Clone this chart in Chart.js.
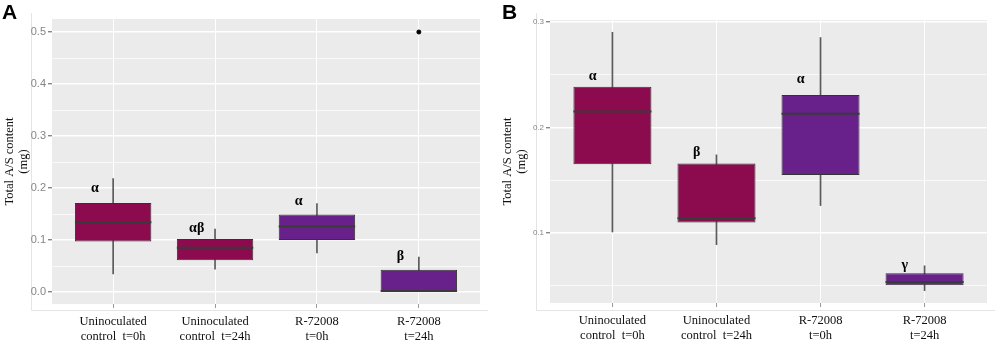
<!DOCTYPE html>
<html>
<head>
<meta charset="utf-8">
<script src="https://cdn.jsdelivr.net/npm/chart.js@4"></script>
<style>
  html, body { margin: 0; padding: 0; background: #fff; }
  #wrap { position: relative; width: 996px; height: 343px; overflow: hidden; }
  .panel { position: absolute; top: 0; width: 498px; height: 343px; }
  .tag { position: absolute; top: 0; font: bold 21px "Liberation Sans", Arial, sans-serif; color: #000; }
</style>
</head>
<body>
<div id="wrap">
  <div class="panel" style="left:0"><canvas id="chartA" width="498" height="343"></canvas></div>
  <div class="panel" style="left:498px"><canvas id="chartB" width="498" height="343"></canvas></div>
  <div class="tag" style="left:2px">A</div>
  <div class="tag" style="left:502px">B</div>
</div>
<script>
const categories = [
  ['Uninoculated', 'control  t=0h'],
  ['Uninoculated', 'control  t=24h'],
  ['R-72008', 't=0h'],
  ['R-72008', 't=24h']
];
const boxColors = ['#8c0b4f', '#8c0b4f', '#68218b', '#68218b'];

// panel A
const lowA = [0.035, 0.044, 0.075, 0.0];
const q1A = [0.097, 0.061, 0.100, 0.0];
const medA = [0.134, 0.085, 0.126, 0.002];
const q3A = [0.171, 0.102, 0.149, 0.043];
const highA = [0.218, 0.121, 0.170, 0.067];
const outliersA = [{ x: 4, y: 0.5 }];
const lettersA = ['α', 'αβ', 'α', 'β'];
const letterYA = [0.199, 0.122, 0.174, 0.068];
const majorTicksA = [0, 0.1, 0.2, 0.3, 0.4, 0.5];
const minorTicksA = [0.05, 0.15, 0.25, 0.35, 0.45];

// panel B
const lowB = [0.101, 0.089, 0.126, 0.0455];
const q1B = [0.165, 0.110, 0.155, 0.0506];
const medB = [0.215, 0.114, 0.213, 0.0537];
const q3B = [0.2385, 0.1657, 0.2306, 0.0619];
const highB = [0.290, 0.174, 0.285, 0.069];
const outliersB = [];
const lettersB = ['α', 'β', 'α', 'γ'];
const letterYB = [0.248, 0.176, 0.245, 0.069];
const majorTicksB = [0.1, 0.2, 0.3];
const minorTicksB = [0.05, 0.15, 0.25];

const serif = '"Liberation Serif", "Times New Roman", serif';
const sans = '"Liberation Sans", Arial, sans-serif';

function makeBoxChart(id, d) {
  const xs = categories.map((c, i) => i + 1);
  const allTicks = [...d.major, ...d.minor].sort((a, b) => a - b);

  // grey panel, faint frame, medians and letters
  const boxExtras = {
    id: 'boxExtras',
    beforeDraw(chart) {
      const { ctx, chartArea: a } = chart;
      ctx.save();
      ctx.fillStyle = '#ebebeb';
      ctx.fillRect(a.left, a.top, a.right - a.left, a.bottom - a.top);
      ctx.strokeStyle = '#e4e4e4';
      ctx.lineWidth = 1;
      ctx.beginPath();
      ctx.moveTo(d.frameX, 13);
      ctx.lineTo(d.frameX, 310.5);
      ctx.lineTo(a.right + 8, 310.5);
      ctx.stroke();
      ctx.restore();
    },
    afterDatasetsDraw(chart) {
      const { ctx, scales: { x, y } } = chart;
      const meta = chart.getDatasetMeta(0);
      ctx.save();
      ctx.strokeStyle = '#3a3a3a';
      ctx.lineWidth = 2;
      meta.data.forEach((el, i) => {
        const py = y.getPixelForValue(d.med[i]);
        ctx.beginPath();
        ctx.moveTo(el.x - el.width / 2, py);
        ctx.lineTo(el.x + el.width / 2, py);
        ctx.stroke();
      });
      ctx.fillStyle = '#000';
      ctx.font = 'bold 14px ' + serif;
      ctx.textAlign = 'center';
      ctx.textBaseline = 'middle';
      d.letters.forEach((t, i) => {
        ctx.fillText(t, x.getPixelForValue(xs[i] - d.letterDx), y.getPixelForValue(d.letterY[i]));
      });
      ctx.restore();
    }
  };

  return new Chart(document.getElementById(id), {
    type: 'bar',
    data: {
      datasets: [
        {
          label: 'box',
          data: xs.map((x, i) => ({ x, y: [d.q1[i], d.q3[i]] })),
          backgroundColor: boxColors,
          borderColor: '#333',
          borderWidth: 1,
          borderSkipped: false,
          grouped: false,
          categoryPercentage: 1,
          barPercentage: 0.75,
          order: 1
        },
        {
          label: 'whisker',
          data: xs.map((x, i) => ({ x, y: [d.low[i], d.high[i]] })),
          backgroundColor: '#5a5a5a',
          borderWidth: 0,
          grouped: false,
          barThickness: 1,
          order: 2
        },
        {
          type: 'scatter',
          label: 'outlier',
          data: d.outliers,
          backgroundColor: '#000',
          borderColor: '#000',
          pointRadius: 2,
          order: 0
        }
      ]
    },
    options: {
      responsive: false,
      animation: false,
      events: [],
      layout: { padding: { top: d.top, right: d.right, left: 0, bottom: 0 } },
      plugins: { legend: { display: false }, tooltip: { enabled: false } },
      scales: {
        x: {
          type: 'linear',
          min: 0.4,
          max: 4.6,
          offset: false,
          afterFit: (s) => { s.height = 343 - d.bottom; },
          afterBuildTicks: (s) => { s.ticks = xs.map(v => ({ value: v })); },
          grid: { color: '#fff', lineWidth: 1, tickColor: '#999', tickLength: 4, offset: false },
          border: { display: false },
          ticks: {
            callback: (v) => categories[v - 1],
            color: '#111',
            font: { family: serif, size: 12.5 },
            padding: 6,
            maxRotation: 0,
            autoSkip: false
          }
        },
        y: {
          min: d.ymin,
          max: d.ymax,
          afterFit: (s) => { s.width = 52; },
          afterBuildTicks: (s) => { s.ticks = allTicks.map(v => ({ value: v })); },
          grid: {
            color: '#fff',
            lineWidth: (c) => d.major.includes(c.tick.value) ? 1.4 : 0.7,
            tickColor: (c) => d.major.includes(c.tick.value) ? '#888' : 'rgba(0,0,0,0)',
            tickLength: 4
          },
          border: { display: false },
          title: {
            display: true,
            text: ['Total A/S content', '(mg)'],
            color: '#111',
            font: { family: serif, size: 12.5, lineHeight: 1.1 },
            padding: { top: 3, bottom: 0 }
          },
          ticks: {
            callback: (v) => d.major.includes(v) ? v.toFixed(1) : '',
            color: '#858585',
            font: { family: sans, size: d.tickSize },
            padding: 2
          }
        }
      }
    },
    plugins: [boxExtras]
  });
}

makeBoxChart('chartA', {
  low: lowA, q1: q1A, med: medA, q3: q3A, high: highA, outliers: outliersA,
  letters: lettersA, letterY: letterYA, letterDx: 0.18,
  major: majorTicksA, minor: minorTicksA,
  ymin: -0.023, ymax: 0.525, top: 19, bottom: 304, right: 18, tickSize: 11, frameX: 31.5
});

makeBoxChart('chartB', {
  low: lowB, q1: q1B, med: medB, q3: q3B, high: highB, outliers: outliersB,
  letters: lettersB, letterY: letterYB, letterDx: 0.19,
  major: majorTicksB, minor: minorTicksB,
  ymin: 0.0338, ymax: 0.3016, top: 20, bottom: 303, right: 9, tickSize: 8, frameX: 38.5
});
</script>
</body>
</html>
